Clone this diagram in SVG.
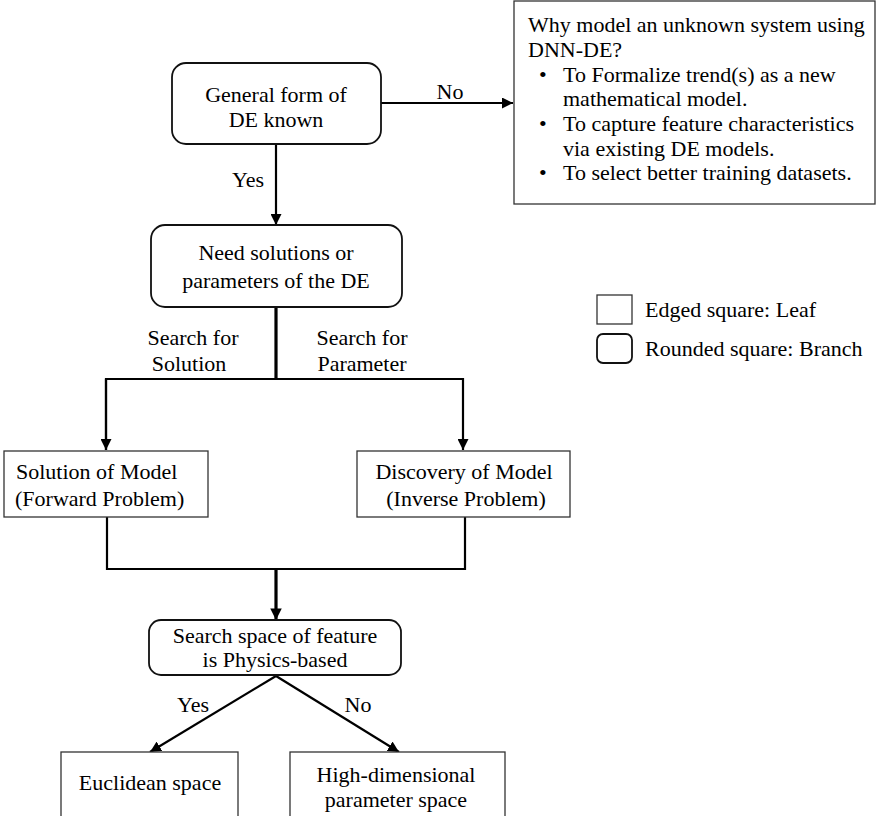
<svg xmlns="http://www.w3.org/2000/svg" width="876" height="816" viewBox="0 0 876 816">
<style>
text{font-family:"Liberation Serif","Times New Roman",serif;font-size:22px;fill:#000}
.c{text-anchor:middle}
.branch{fill:#fff;stroke:#111;stroke-width:1.8}
.leaf{fill:#fff;stroke:#333;stroke-width:1.3}
.conn{fill:none;stroke:#000;stroke-width:2.2}
.thick{fill:none;stroke:#000;stroke-width:3.2}
</style>
<defs>
<marker id="ah" viewBox="0 0 10 10" refX="10" refY="5" markerWidth="5" markerHeight="5" orient="auto" markerUnits="strokeWidth">
<path d="M0,0 L10,5 L0,10 z" fill="#000"/>
</marker>
<marker id="ah2" viewBox="0 0 10 10" refX="10" refY="5" markerWidth="3.6" markerHeight="3.6" orient="auto" markerUnits="strokeWidth">
<path d="M0,0 L10,5 L0,10 z" fill="#000"/>
</marker>
</defs>
<g id="connectors">
<line class="conn" x1="381" y1="103" x2="513" y2="103" marker-end="url(#ah)"/>
<line class="conn" x1="276" y1="144" x2="276" y2="225" marker-end="url(#ah)"/>
<line class="thick" x1="276" y1="307" x2="276" y2="379"/>
<polyline class="conn" points="106,450 106,379 463,379 463,450" marker-end="url(#ah)"/>
<line class="conn" x1="106" y1="379" x2="106" y2="450" marker-end="url(#ah)"/>
<polyline class="conn" points="107,517 107,569 465,569 465,517"/>
<line class="thick" x1="276" y1="569" x2="276" y2="620" marker-end="url(#ah2)"/>
<line class="conn" x1="276" y1="676" x2="150" y2="752" marker-end="url(#ah)"/>
<line class="conn" x1="276" y1="676" x2="399" y2="752" marker-end="url(#ah)"/>
<text class="c" x="450" y="99">No</text>
<text class="c" x="248" y="187">Yes</text>
<text class="c" x="193" y="345">Search for</text>
<text class="c" x="189" y="371">Solution</text>
<text class="c" x="362" y="345">Search for</text>
<text class="c" x="362" y="371">Parameter</text>
<text class="c" x="193" y="712">Yes</text>
<text class="c" x="358" y="712">No</text>
</g>
<g id="general-form">
<rect class="branch" x="172" y="63" width="209" height="81" rx="14"/>
<text class="c" x="276" y="102">General form of</text>
<text class="c" x="276" y="127">DE known</text>
</g>
<g id="why-model">
<rect class="leaf" x="514" y="1" width="361" height="203"/>
<text x="528" y="32">Why model an unknown system using</text>
<text x="528" y="57">DNN-DE?</text>
<text x="539" y="82">•</text><text x="563" y="82">To Formalize trend(s) as a new</text>
<text x="563" y="106">mathematical model.</text>
<text x="539" y="131">•</text><text x="563" y="131">To capture feature characteristics</text>
<text x="563" y="156">via existing DE models.</text>
<text x="539" y="180">•</text><text x="563" y="180">To select better training datasets.</text>
</g>
<g id="need-solutions">
<rect class="branch" x="151" y="225" width="251" height="82" rx="14"/>
<text class="c" x="276" y="260">Need solutions or</text>
<text class="c" x="276" y="288">parameters of the DE</text>
</g>
<g id="solution-of-model">
<rect class="leaf" x="4" y="451" width="204" height="66"/>
<text x="16" y="479">Solution of Model</text>
<text x="15" y="506">(Forward Problem)</text>
</g>
<g id="discovery-of-model">
<rect class="leaf" x="357" y="451" width="213" height="66"/>
<text class="c" x="464" y="479">Discovery of Model</text>
<text class="c" x="466" y="506">(Inverse Problem)</text>
</g>
<g id="search-space">
<rect class="branch" x="149" y="620" width="252" height="55" rx="12"/>
<text class="c" x="275" y="643">Search space of feature</text>
<text class="c" x="275" y="667">is Physics-based</text>
</g>
<g id="euclidean">
<rect class="leaf" x="61" y="752" width="177" height="70"/>
<text class="c" x="150" y="790">Euclidean space</text>
</g>
<g id="high-dimensional">
<rect class="leaf" x="290" y="752" width="215" height="70"/>
<text class="c" x="396" y="782">High-dimensional</text>
<text class="c" x="396" y="807">parameter space</text>
</g>
<g id="legend">
<rect class="leaf" x="597" y="295" width="35" height="29"/>
<text x="645" y="317">Edged square: Leaf</text>
<rect class="branch" x="597" y="334" width="35" height="29" rx="6"/>
<text x="645" y="356">Rounded square: Branch</text>
</g>
</svg>
